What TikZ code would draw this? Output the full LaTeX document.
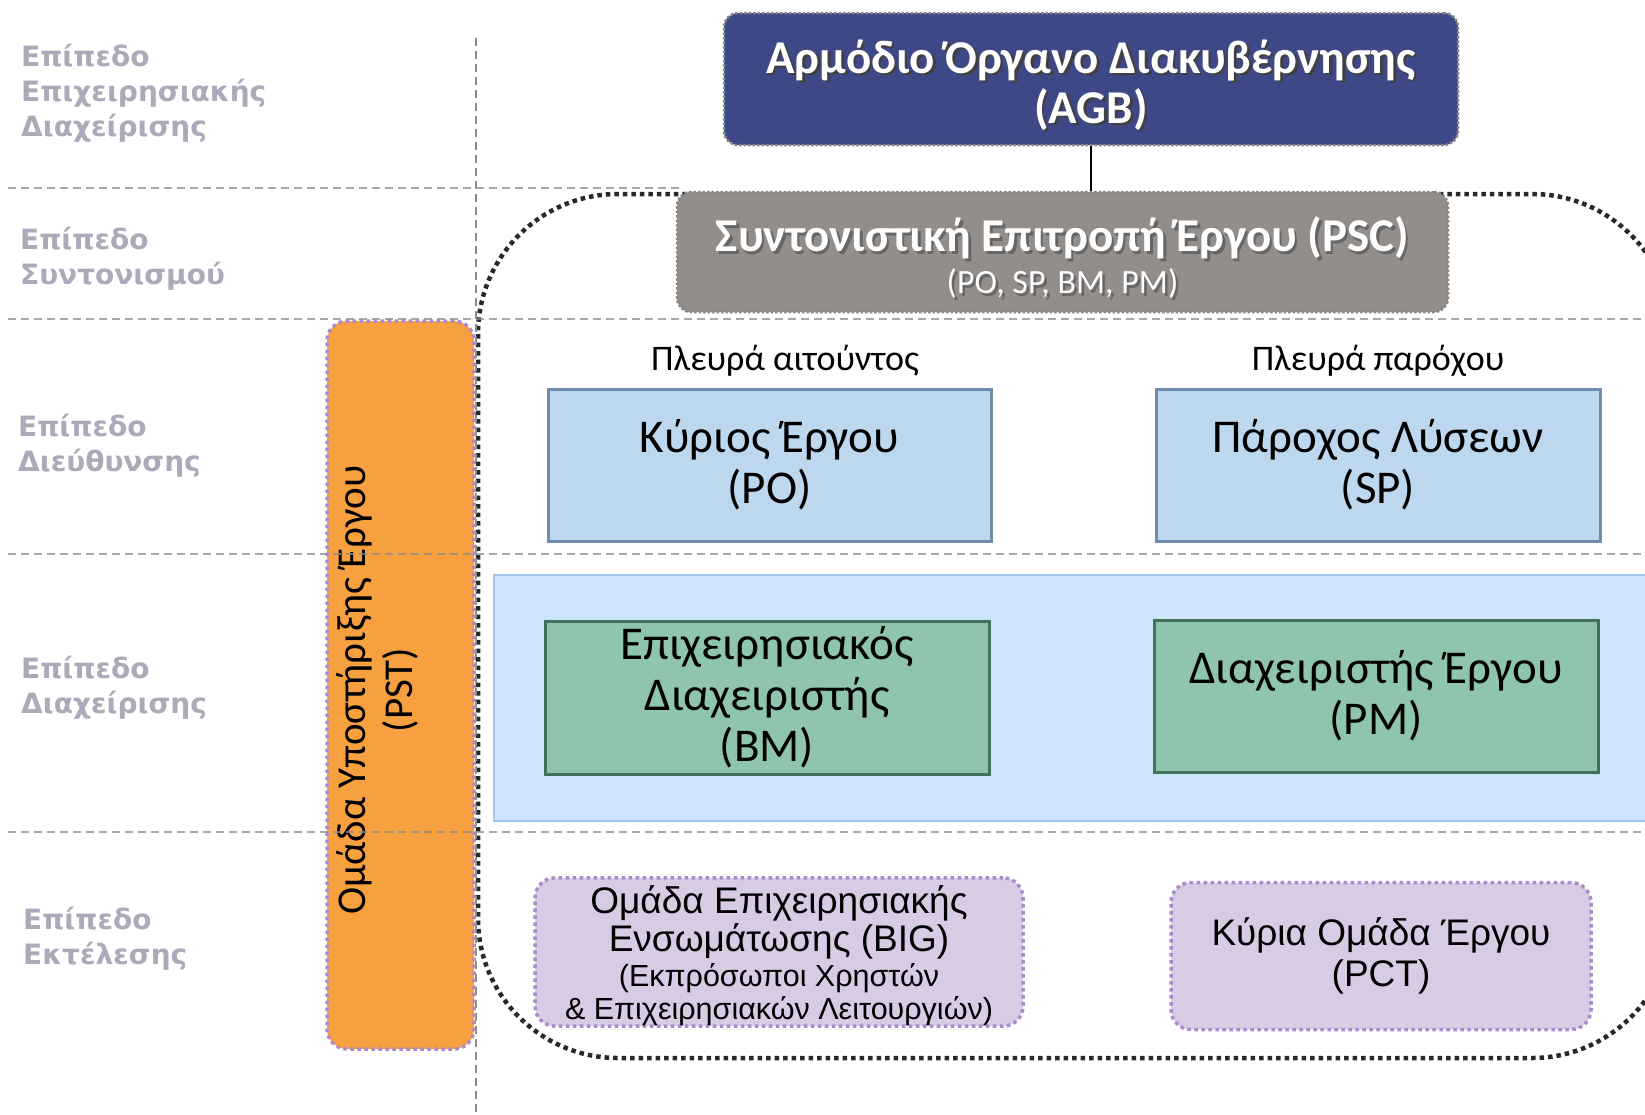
\documentclass[tikz,border=0pt]{standalone}
\usepackage{fontspec}
\setmainfont{Carlito}
\newfontfamily\lvlfont{DejaVu Sans}
\newfontfamily\arialfont{Liberation Sans}
\definecolor{agbfill}{RGB}{63,72,135}
\definecolor{pscfill}{RGB}{148,142,139}
\definecolor{bordergrey}{RGB}{135,135,135}
\definecolor{pofill}{RGB}{189,215,238}
\definecolor{poborder}{RGB}{112,140,172}
\definecolor{bandfill}{RGB}{204,228,252}
\definecolor{bandborder}{RGB}{157,197,235}
\definecolor{bmfill}{RGB}{143,196,173}
\definecolor{bmborder}{RGB}{68,112,94}
\definecolor{pstfill}{RGB}{246,160,64}
\definecolor{purpledot}{RGB}{170,138,205}
\definecolor{teamfill}{RGB}{217,203,228}
\definecolor{lvlgrey}{RGB}{170,170,186}
\definecolor{gridgrey}{RGB}{140,140,140}
\definecolor{dotblack}{RGB}{40,40,40}
\newcommand\shtext[2]{\leavevmode\rlap{\kern2.5pt\raisebox{-2.5pt}{\color{#1}#2}}#2}
\begin{document}
\begin{tikzpicture}[x=1pt,y=-1pt,
  lvl/.style={font=\lvlfont\bfseries\fontsize{28}{35}\selectfont, text=lvlgrey, align=left, anchor=west, inner sep=0pt},
  gridline/.style={draw=gridgrey, line width=1.5pt, dash pattern=on 8pt off 5pt},
  topbox/.style={rounded corners=14pt, draw=bordergrey, line width=2.5pt, dash pattern=on 2.5pt off 2pt, text=white, align=center, inner sep=0pt, font=\bfseries\fontsize{47}{50}\selectfont},
  rolebox/.style={line width=3pt, align=center, inner sep=0pt, font=\fontsize{47}{51}\selectfont},
  teambox/.style={rounded corners=20pt, fill=teamfill, draw=purpledot, line width=3.5pt, dash pattern=on 3.5pt off 3.5pt, align=center, inner sep=0pt, font=\arialfont\fontsize{37}{39}\selectfont},
  bigdot/.style={draw=dotblack, line width=4.5pt, dash pattern=on 4.5pt off 4pt},
  sidelabel/.style={font=\fontsize{36}{40}\selectfont, inner sep=0pt}
]
\useasboundingbox (0,0) rectangle (1645,1114);
\clip (0,0) rectangle (1645,1114);
\fill[white] (0,0) rectangle (1645,1114);

% level labels
\node[lvl] (l1) at (21,93) {Επίπεδο\\Επιχειρησιακής\\Διαχείρισης};
\node[lvl] (l2) at (20,259) {Επίπεδο\\Συντονισμού};
\node[lvl] (l3) at (18,446) {Επίπεδο\\Διεύθυνσης};
\node[lvl] (l4) at (21,688) {Επίπεδο\\Διαχείρισης};
\node[lvl] (l5) at (23,939) {Επίπεδο\\Εκτέλεσης};

% big dotted boundary and band
\draw[bigdot, rounded corners=140pt] (478,194) rectangle (1672,1058);
\draw[gridline] (476,38) -- (476,1114);
\draw[fill=bandfill, draw=bandborder, line width=1.5pt] (494,575) rectangle (1670,821);

% orange support team
\node[rounded corners=20pt, fill=pstfill, draw=purpledot, line width=3.5pt, dash pattern=on 3.5pt off 3.5pt, minimum width=147pt, minimum height=728pt] (pst) at (400.5,685) {};
\node[rotate=90, align=center, inner sep=0pt, font=\fontsize{41}{47}\selectfont] (psttext) at (377,690) {Ομάδα Υποστήριξης Έργου\\(PST)};

% horizontal level separators
\draw[gridline, opacity=0.75] (8,188) -- (680,188);
\draw[gridline, opacity=0.75] (8,319) -- (1645,319);
\draw[gridline, opacity=0.75] (8,554) -- (1645,554);
\draw[gridline, opacity=0.75] (8,832) -- (1645,832);

% top boxes
\node[topbox, fill=agbfill, minimum width=734pt, minimum height=132pt] (agb) at (1091,79)
  {\rule{0pt}{48pt}\shtext{black!75}{Αρμόδιο Όργανο Διακυβέρνησης}\\\shtext{black!75}{(AGB)}};
\node[topbox, fill=pscfill, minimum width=771pt, minimum height=120pt] (psc) at (1062.5,252)
  {\rule{0pt}{49pt}\shtext{black!60}{Συντονιστική Επιτροπή Έργου (PSC)}\\[-8pt]{\mdseries\fontsize{34}{50}\selectfont\shtext{black!60}{(PO, SP, BM, PM)}}};
\draw[line width=1.8pt] (agb.south) -- (agb.south |- psc.north);

% side labels
\node[sidelabel] (req) at (785,361) {Πλευρά αιτούντος};
\node[sidelabel] (prov) at (1378,361) {Πλευρά παρόχου};

% role boxes
\node[rolebox, fill=pofill, draw=poborder, minimum width=443pt, minimum height=152pt] (po) at (769.5,465) {Κύριος Έργου\\(PO)};
\node[rolebox, fill=pofill, draw=poborder, minimum width=444pt, minimum height=152pt] (sp) at (1378,465) {Πάροχος Λύσεων\\(SP)};
\node[rolebox, fill=bmfill, draw=bmborder, minimum width=444pt, minimum height=153pt] (bm) at (767,697.5) {Επιχειρησιακός\\Διαχειριστής\\(BM)};
\node[rolebox, fill=bmfill, draw=bmborder, minimum width=444pt, minimum height=152pt] (pm) at (1376,696) {Διαχειριστής Έργου\\(PM)};

% teams
\node[teambox, minimum width=488pt, minimum height=146pt] (big) at (779,952)
  {\rule{0pt}{36pt}Ομάδα Επιχειρησιακής\\[-1pt]Ενσωμάτωσης (BIG)\\[-4pt]{\fontsize{30.5}{33}\selectfont (Εκπρόσωποι Χρηστών}\\[-6pt]{\fontsize{30.5}{33}\selectfont \& Επιχειρησιακών Λειτουργιών)}};
\node[teambox, minimum width=420pt, minimum height=147pt] (pct) at (1381,956)
  {Κύρια Ομάδα Έργου\\[2pt](PCT)};
\end{tikzpicture}
\end{document}
